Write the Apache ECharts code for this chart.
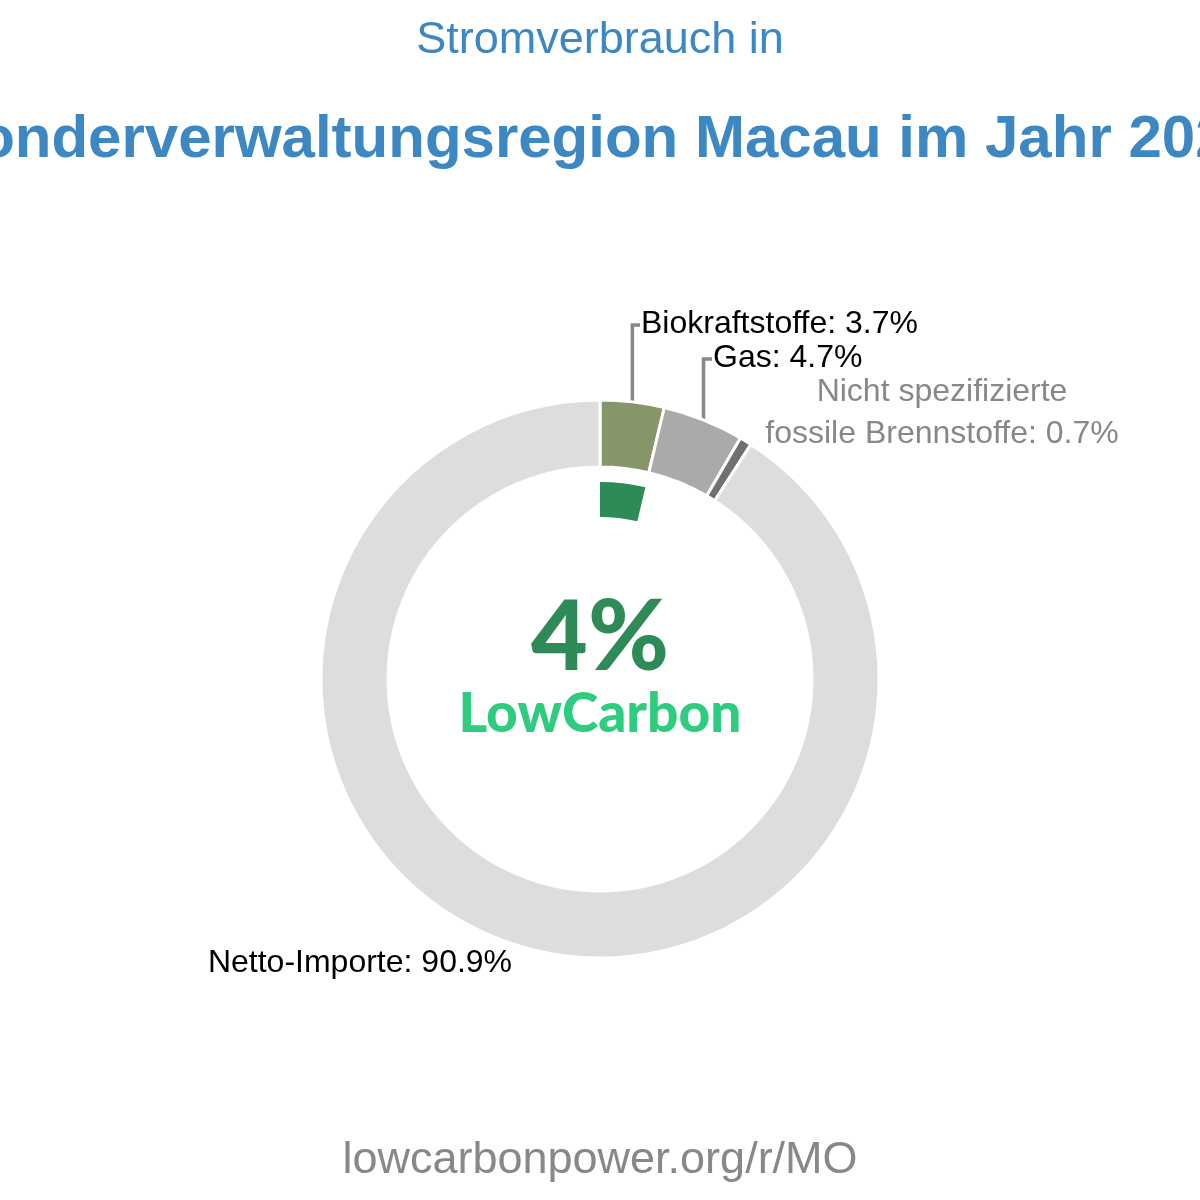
<!DOCTYPE html>
<html lang="de">

<head>
  <meta charset="UTF-8" />
  <title>Stromverbrauch Macau</title>
  <script src="https://cdn.jsdelivr.net/npm/echarts@6/dist/echarts.min.js"></script>
  <style>
    html, body { margin: 0; padding: 0; background: #fff; }
    #main { width: 1200px; height: 1200px; }
  </style>
</head>

<body>
  <div id="main"></div>
  <script type="text/javascript">
    // Daten
    var sources = ['Biokraftstoffe', 'Gas', 'Nicht spezifizierte\nfossile Brennstoffe', 'Netto-Importe'];
    var shares = [3.7, 4.7, 0.7, 90.9];
    var colors = ['#879669', '#aaaaaa', '#707070', '#dddddd'];
    var lowCarbonShare = [3.7];
    var centerValue = '4%';

    // Position der Beschriftungen (Textmitte links bzw. zentriert)
    var labelPos = [
      { x: 641, y: 324, align: 'left', line: true },
      { x: 713, y: 358, align: 'left', line: true },
      { x: 942, y: 413, align: 'center', line: false },
      { x: 360, y: 963, align: 'center', line: false },
    ];

    var myChart = echarts.init(document.getElementById('main'));

    var ringData = sources.map(function (name, i) {
      return {
        name: name,
        value: shares[i],
        itemStyle: { color: colors[i] },
        label: i == 2 ? { color: '#888888', lineHeight: 42 } : {},
        labelLine: { show: labelPos[i].line },
      };
    });

    var lowData = [
      { name: 'LowCarbon', value: lowCarbonShare[0], itemStyle: { color: '#2e8b57' } },
      { name: 'rest', value: 100 - lowCarbonShare[0], itemStyle: { color: 'rgba(0,0,0,0)' } },
    ];

    var option = {
      backgroundColor: '#ffffff',
      animation: false,
      graphic: [
        {
          type: 'text', x: 600, y: 41,
          style: {
            text: 'Stromverbrauch in', fill: '#3d87c3', align: 'center', verticalAlign: 'middle',
            font: '45px "Liberation Sans", Arial, sans-serif',
          },
        },
        {
          type: 'text', x: 600, y: 140,
          style: {
            text: 'Sonderverwaltungsregion Macau im Jahr 2022', fill: '#3d87c3', align: 'center', verticalAlign: 'middle',
            font: 'bold 60px "Liberation Sans", Arial, sans-serif',
          },
        },
        {
          type: 'text', x: 600, y: 638, z: 10,
          style: {
            text: centerValue, fill: '#2e8b57', align: 'center', verticalAlign: 'middle',
            font: '900 98px Lato, sans-serif',
          },
        },
        {
          type: 'text', x: 600, y: 714, z: 10,
          style: {
            text: 'LowCarbon', fill: '#2ecc7f', align: 'center', verticalAlign: 'middle',
            font: '900 55px Lato, sans-serif',
          },
        },
        {
          type: 'text', x: 600, y: 1161,
          style: {
            text: 'lowcarbonpower.org/r/MO', fill: '#888888', align: 'center', verticalAlign: 'middle',
            font: '45px "Liberation Sans", Arial, sans-serif',
          },
        },
      ],
      series: [
        {
          name: 'Stromverbrauch',
          type: 'pie',
          center: [600, 679],
          radius: [212, 279],
          startAngle: 90,
          clockwise: true,
          avoidLabelOverlap: false,
          itemStyle: { borderColor: '#ffffff', borderWidth: 3 },
          label: {
            show: true,
            position: 'outside',
            formatter: '{b}: {c}%',
            color: '#000000',
            fontSize: 32,
            fontFamily: '"Liberation Sans", Arial, sans-serif',
          },
          labelLine: {
            show: true,
            lineStyle: { color: '#888888', width: 3.5 },
          },
          labelLayout: function (params) {
            var p = labelPos[params.dataIndex];
            var res = { x: p.x, y: p.y, align: p.align, verticalAlign: 'middle' };
            if (p.line && params.labelLinePoints) {
              var s = params.labelLinePoints[0];
              res.labelLinePoints = [[s[0], s[1]], [s[0], p.y + 1], [p.x - 1, p.y + 1]];
            }
            return res;
          },
          emphasis: { disabled: true },
          data: ringData,
        },
        {
          name: 'LowCarbon',
          type: 'pie',
          center: [600, 679],
          radius: [162, 197],
          startAngle: 90,
          clockwise: true,
          silent: true,
          label: { show: false },
          labelLine: { show: false },
          data: lowData,
        },
      ],
    };

    myChart.setOption(option);
  </script>
</body>

</html>
